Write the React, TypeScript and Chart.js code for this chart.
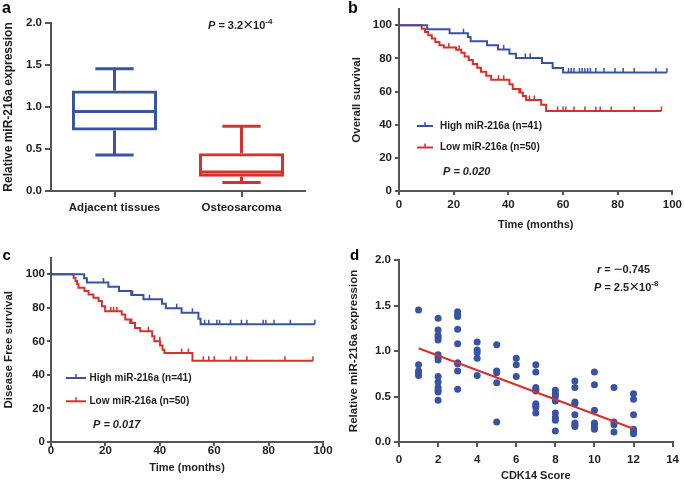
import React, { useEffect, useRef } from 'react';
import { Chart, registerables } from 'chart.js';

Chart.register(...registerables);

const BLUE = '#3953a4';
const RED = '#d8302d';
const AXIS = '#555555';
const TEXT = '#1e1e1e';
const FAMILY = "'Liberation Sans', Arial, Helvetica, sans-serif";

// ---------- Panel a: box plot ----------
const boxCategories = ['Adjacent tissues', 'Osteosarcoma'];
const boxMin = [0.43, 0.1];
const boxQ1 = [0.72, 0.17];
const boxMedian = [0.945, 0.225];
const boxQ3 = [1.195, 0.45];
const boxMax = [1.455, 0.77];
const expressionTicks = [0, 0.5, 1.0, 1.5, 2.0];

// ---------- Panel b: overall survival ----------
const osHighTime = [0, 10.3, 18.5, 25.2, 26.2, 32.2, 36.2, 40.4, 42.8, 52.3, 56.2, 60, 98];
const osHighSurv = [100, 97.6, 95.2, 92.9, 90.4, 87.9, 85.4, 82.8, 80.2, 77.2, 74.3, 71.5, 71.5];
const osHighCensor = [23.6, 38.3, 46.2, 48, 62, 63, 64, 66, 67, 68, 69, 70, 72, 75, 79, 82, 86, 94, 98];
const osLowTime = [0, 8.3, 9.5, 10.7, 12, 13.3, 14.8, 16.4, 20.9, 22.8, 24, 25.5, 27, 28.6, 30, 31.9, 33.7, 40.4, 41.6, 44, 45.3, 46.5, 52, 53.8, 96];
const osLowSurv = [100, 98, 96, 94, 92, 90, 88, 86.6, 85.2, 83.4, 81.2, 79, 76.7, 74.4, 71.9, 69.6, 67.2, 64.4, 61.5, 59.4, 57.3, 55, 52, 48.3, 48.3];
const osLowCensor = [18.2, 22, 36.4, 38.3, 44.5, 47.7, 49.5, 58, 60, 61, 64, 68, 72, 73.6, 77.6, 86, 96];

// ---------- Panel c: disease free survival ----------
const dfsHighTime = [0, 12.2, 13.2, 21.1, 25, 29.5, 34, 40.8, 42.2, 48, 54.2, 55, 97];
const dfsHighSurv = [100, 97.6, 95.1, 92.6, 90.1, 87.6, 85.1, 82.4, 79.8, 77, 73.5, 70.2, 70.2];
const dfsHighCensor = [19.3, 30, 36.2, 46.2, 52, 56.5, 58, 61, 62, 66, 70, 72, 78, 79, 82, 88, 97];
const dfsLowTime = [0, 8.3, 9, 9.6, 10.1, 12.3, 13.8, 15.6, 17.5, 18.7, 19.9, 26, 27.3, 29.1, 30.9, 32.8, 37.2, 38, 40.1, 41, 41.7, 52, 96.3];
const dfsLowSurv = [100, 98, 96, 94, 92, 90, 88, 86, 84, 81, 78, 76, 73, 71, 68, 66, 63, 60, 57.5, 55, 53, 48.5, 48.5];
const dfsLowCensor = [22, 23, 24.2, 29.7, 35.8, 40, 48, 50.5, 56, 58, 60, 66, 68, 72, 86, 96.3];

const timeTicks = [0, 20, 40, 60, 80, 100];
const survivalTicks = [0, 20, 40, 60, 80, 100];
const legendHighLabel = 'High miR-216a (n=41)';
const legendLowLabel = 'Low miR-216a (n=50)';

// ---------- Panel d: correlation ----------
const cdkScore = [
  1, 1, 1, 1, 1,
  2, 2, 2, 2, 2, 2, 2, 2, 2, 2, 2, 2, 2, 2,
  3, 3, 3, 3, 3, 3, 3, 3, 3,
  4, 4, 4, 4, 4,
  5, 5, 5, 5, 5,
  6, 6, 6,
  7, 7, 7, 7, 7, 7, 7, 7, 7,
  8, 8, 8, 8, 8, 8, 8, 8,
  9, 9, 9, 9, 9, 9, 9, 9,
  10, 10, 10, 10, 10, 10, 10,
  11, 11, 11, 11,
  12, 12, 12, 12, 12, 12,
];
const cdkExpression = [
  1.45, 0.85, 0.78, 0.76, 0.73,
  1.36, 1.23, 1.17, 1.15, 1.12, 0.96, 0.93, 0.9, 0.72, 0.66, 0.6, 0.57, 0.55, 0.46,
  1.43, 1.4, 1.38, 1.24, 1.08, 0.87, 0.86, 0.78, 0.58,
  1.1, 1.01, 0.98, 0.92, 0.73,
  1.07, 0.78, 0.76, 0.65, 0.22,
  0.92, 0.85, 0.72,
  0.85, 0.77, 0.6, 0.58, 0.56, 0.42, 0.4, 0.38, 0.32,
  0.57, 0.53, 0.5, 0.45, 0.32, 0.27, 0.24, 0.12,
  0.67, 0.6, 0.44, 0.42, 0.3, 0.21, 0.19, 0.17,
  0.77, 0.63, 0.35, 0.21, 0.19, 0.16, 0.14,
  0.6, 0.22, 0.19, 0.11,
  0.53, 0.47, 0.3, 0.14, 0.11, 0.09,
];
const fitX = [1, 12];
const fitY = [1.03, 0.145];
const cdkTicks = [0, 2, 4, 6, 8, 10, 12, 14];

// ---------- helpers ----------
const survAt = (times: number[], surv: number[], t: number) => {
  let s = surv[0];
  for (let i = 0; i < times.length; i++) if (times[i] <= t) s = surv[i];
  return s;
};

type Seg = { t: string; italic?: boolean; weight?: string; size?: number; dy?: number };
function drawRich(ctx: CanvasRenderingContext2D, x: number, y: number, segs: Seg[], base: number) {
  let cx = x;
  ctx.textBaseline = 'middle';
  ctx.textAlign = 'left';
  ctx.fillStyle = TEXT;
  for (const s of segs) {
    const size = s.size ?? base;
    ctx.font = `${s.italic ? 'italic ' : ''}${s.weight ?? 'bold'} ${size}px ${FAMILY}`;
    ctx.fillText(s.t, cx, y + (s.dy ?? 0));
    cx += ctx.measureText(s.t).width;
  }
}

function drawLetter(ctx: CanvasRenderingContext2D, letter: string, x: number, y: number, size: number) {
  ctx.font = `bold ${size}px ${FAMILY}`;
  ctx.fillStyle = '#000';
  ctx.textBaseline = 'alphabetic';
  ctx.textAlign = 'left';
  ctx.fillText(letter, x, y);
}

function drawLegendItem(ctx: CanvasRenderingContext2D, x0: number, x1: number, y: number, color: string, label: string, textX: number) {
  ctx.strokeStyle = color;
  ctx.lineWidth = 2;
  ctx.beginPath();
  ctx.moveTo(x0, y);
  ctx.lineTo(x1, y);
  ctx.stroke();
  ctx.lineWidth = 1.5;
  const mx = (x0 + x1) / 2;
  ctx.beginPath();
  ctx.moveTo(mx, y);
  ctx.lineTo(mx, y - 4);
  ctx.stroke();
  ctx.font = `bold 10px ${FAMILY}`;
  ctx.fillStyle = TEXT;
  ctx.textBaseline = 'middle';
  ctx.textAlign = 'left';
  ctx.fillText(label, textX, y);
}

type AxisOpt = {
  min: number; max: number; ticks: number[]; fmt?: (v: number) => string;
  tickLength: number; pad: number; size: number; title: string; titleSize: number;
  titlePad: number; fixed: number; horizontal: boolean;
};
function linAxis(o: AxisOpt) {
  return {
    type: 'linear',
    min: o.min,
    max: o.max,
    position: o.horizontal ? 'bottom' : 'left',
    afterBuildTicks: (s: any) => { s.ticks = o.ticks.map((v) => ({ value: v })); },
    afterFit: (s: any) => { if (o.horizontal) s.height = o.fixed; else s.width = o.fixed; },
    border: { display: true, color: AXIS, width: 2 },
    grid: { display: true, drawOnChartArea: false, drawTicks: true, tickLength: o.tickLength, color: AXIS, lineWidth: 2 },
    ticks: {
      padding: o.pad, color: TEXT, autoSkip: false, maxRotation: 0,
      font: { family: FAMILY, size: o.size, weight: 'bold', lineHeight: o.horizontal ? 1.2 : 1 },
      callback: (v: any) => (o.fmt ? o.fmt(Number(v)) : String(v)),
    },
    title: {
      display: true, text: o.title, color: TEXT,
      font: { family: FAMILY, size: o.titleSize, weight: 'bold', lineHeight: 1.2 },
      padding: { top: o.titlePad, bottom: o.titlePad },
    },
  };
}

const baseOptions = {
  responsive: false,
  animation: false,
  devicePixelRatio: 1,
  events: [],
  plugins: { legend: { display: false }, tooltip: { enabled: false }, title: { display: false } },
};

const TICK = 11.5;

// ---------- chart configs ----------
function configA(): any {
  const boxPlugin = {
    id: 'boxWhiskers',
    afterDatasetsDraw(chart: any) {
      const meta = chart.getDatasetMeta(0);
      const y = chart.scales.y;
      const ctx: CanvasRenderingContext2D = chart.ctx;
      const colors = [BLUE, RED];
      ctx.save();
      ctx.lineWidth = 3;
      const line = (x0: number, y0: number, x1: number, y1: number) => {
        ctx.beginPath(); ctx.moveTo(x0, y0); ctx.lineTo(x1, y1); ctx.stroke();
      };
      meta.data.forEach((bar: any, i: number) => {
        const w = bar.width;
        const cx = bar.x;
        ctx.strokeStyle = colors[i];
        const yMed = y.getPixelForValue(boxMedian[i]);
        line(cx - w / 2 + 1, yMed, cx + w / 2 - 1, yMed);
        const yQ3 = y.getPixelForValue(boxQ3[i]);
        const yQ1 = y.getPixelForValue(boxQ1[i]);
        const yMax = y.getPixelForValue(boxMax[i]);
        const yMin = y.getPixelForValue(boxMin[i]);
        line(cx, yQ3, cx, yMax);
        line(cx, yQ1, cx, yMin);
        const cw = w * 0.45;
        line(cx - cw / 2, yMax, cx + cw / 2, yMax);
        line(cx - cw / 2, yMin, cx + cw / 2, yMin);
      });
      ctx.restore();
    },
    afterDraw(chart: any) {
      const ctx: CanvasRenderingContext2D = chart.ctx;
      ctx.save();
      drawLetter(ctx, 'a', 2, 13, 16);
      drawRich(ctx, 208, 25.5, [
        { t: 'P', italic: true },
        { t: ' = 3.2' },
        { t: '×', weight: 'normal', size: 17 },
        { t: '10' },
        { t: '-4', size: 8, dy: -4 },
      ], 11);
      ctx.restore();
    },
  };
  return {
    type: 'bar',
    data: {
      labels: boxCategories,
      datasets: [{
        data: boxQ1.map((q, i) => [q, boxQ3[i]]),
        backgroundColor: 'rgba(255,255,255,0)',
        borderColor: [BLUE, RED],
        borderWidth: 3,
        borderSkipped: false,
        barPercentage: 0.67,
        categoryPercentage: 1,
      }],
    },
    options: {
      ...baseOptions,
      layout: { padding: { left: 0, right: 40, top: 23, bottom: 0 } },
      scales: {
        x: {
          type: 'category',
          offset: true,
          afterFit: (s: any) => { s.height = 49; },
          border: { display: true, color: AXIS, width: 2 },
          grid: { display: true, offset: false, drawOnChartArea: false, drawTicks: true, tickLength: 6, color: AXIS, lineWidth: 2 },
          ticks: { padding: 3.5, color: TEXT, maxRotation: 0, font: { family: FAMILY, size: 11.5, weight: 'bold', lineHeight: 1.2 } },
        },
        y: linAxis({
          min: 0, max: 2, ticks: expressionTicks, fmt: (v) => v.toFixed(1),
          tickLength: 6, pad: 3, size: TICK, title: 'Relative miR-216a expression', titleSize: 12,
          titlePad: 1.8, fixed: 51, horizontal: false,
        }),
      },
    },
    plugins: [boxPlugin],
  };
}

function kmDatasets(hT: number[], hS: number[], hC: number[], lT: number[], lS: number[], lC: number[]) {
  const censor = (times: number[], surv: number[], c: number[], color: string) => ({
    data: c.map((t) => ({ x: t, y: survAt(times, surv, t) })),
    showLine: false,
    pointStyle: 'dash',
    pointRotation: -90,
    pointRadius: 4.5,
    pointBorderWidth: 1.5,
    pointBorderColor: color,
    pointBackgroundColor: color,
  });
  const curve = (times: number[], surv: number[], color: string) => ({
    data: times.map((t, i) => ({ x: t, y: surv[i] })),
    stepped: true,
    borderColor: color,
    borderWidth: 2,
    pointRadius: 0,
    fill: false,
  });
  return [
    censor(hT, hS, hC, BLUE),
    curve(hT, hS, BLUE),
    censor(lT, lS, lC, RED),
    curve(lT, lS, RED),
  ];
}

function configB(): any {
  const notes = {
    id: 'notesB',
    afterDraw(chart: any) {
      const ctx: CanvasRenderingContext2D = chart.ctx;
      ctx.save();
      drawLetter(ctx, 'b', 3, 13, 16);
      drawLegendItem(ctx, 72, 88, 126, BLUE, legendHighLabel, 95);
      drawLegendItem(ctx, 72, 88, 147.5, RED, legendLowLabel, 95);
      drawRich(ctx, 98, 172, [{ t: 'P = 0.020', italic: true }], 11);
      ctx.restore();
    },
  };
  return {
    type: 'line',
    data: { datasets: kmDatasets(osHighTime, osHighSurv, osHighCensor, osLowTime, osLowSurv, osLowCensor) },
    options: {
      ...baseOptions,
      layout: { padding: { left: 0, right: 12, top: 5.5, bottom: 0 } },
      scales: {
        x: linAxis({
          min: 0, max: 100, ticks: timeTicks, tickLength: 4, pad: 3, size: TICK,
          title: 'Time (months)', titleSize: 11, titlePad: 8.4, fixed: 49, horizontal: true,
        }),
        y: linAxis({
          min: 0, max: 110, ticks: survivalTicks, tickLength: 4, pad: 3, size: TICK,
          title: 'Overall survival', titleSize: 11.5, titlePad: 4.8, fixed: 54, horizontal: false,
        }),
      },
    },
    plugins: [notes],
  };
}

function configC(): any {
  const notes = {
    id: 'notesC',
    afterDraw(chart: any) {
      const ctx: CanvasRenderingContext2D = chart.ctx;
      ctx.save();
      drawLetter(ctx, 'c', 2.5, 20, 15);
      drawLegendItem(ctx, 66, 86, 138, BLUE, legendHighLabel, 89.5);
      drawLegendItem(ctx, 66, 86, 161.3, RED, legendLowLabel, 89.5);
      drawRich(ctx, 93, 185, [{ t: 'P = 0.017', italic: true }], 11);
      ctx.restore();
    },
  };
  return {
    type: 'line',
    data: { datasets: kmDatasets(dfsHighTime, dfsHighSurv, dfsHighCensor, dfsLowTime, dfsLowSurv, dfsLowCensor) },
    options: {
      ...baseOptions,
      layout: { padding: { left: 0, right: 22, top: 17.5, bottom: 0 } },
      scales: {
        x: linAxis({
          min: 0, max: 100, ticks: timeTicks, tickLength: 4, pad: -2, size: TICK,
          title: 'Time (months)', titleSize: 11, titlePad: 8.1, fixed: 41, horizontal: true,
        }),
        y: linAxis({
          min: 0, max: 110, ticks: survivalTicks, tickLength: 4, pad: 2, size: TICK,
          title: 'Disease Free survival', titleSize: 11.5, titlePad: 2.1, fixed: 51, horizontal: false,
        }),
      },
    },
    plugins: [notes],
  };
}

function configD(): any {
  const notes = {
    id: 'notesD',
    afterDraw(chart: any) {
      const ctx: CanvasRenderingContext2D = chart.ctx;
      ctx.save();
      drawLetter(ctx, 'd', 5, 20, 15);
      drawRich(ctx, 252, 30, [
        { t: 'r', italic: true },
        { t: ' = ' },
        { t: '−', weight: 'normal', size: 15 },
        { t: '0.745' },
      ], 11);
      drawRich(ctx, 249, 47.5, [
        { t: 'P', italic: true },
        { t: ' = 2.5' },
        { t: '×', weight: 'normal', size: 17 },
        { t: '10' },
        { t: '-8', size: 8, dy: -4 },
      ], 11);
      ctx.restore();
    },
  };
  return {
    type: 'scatter',
    data: {
      datasets: [
        {
          data: fitX.map((x, i) => ({ x, y: fitY[i] })),
          showLine: true,
          borderColor: RED,
          borderWidth: 2,
          pointRadius: 0,
          fill: false,
        },
        {
          data: cdkScore.map((x, i) => ({ x, y: cdkExpression[i] })),
          pointRadius: 3.5,
          pointBackgroundColor: BLUE,
          pointBorderWidth: 0,
          backgroundColor: BLUE,
        },
      ],
    },
    options: {
      ...baseOptions,
      layout: { padding: { left: 0, right: 8, top: 20, bottom: 0 } },
      scales: {
        x: linAxis({
          min: 0, max: 14, ticks: cdkTicks, tickLength: 5, pad: 6, size: TICK,
          title: 'CDK14 Score', titleSize: 11, titlePad: 0.4, fixed: 41, horizontal: true,
        }),
        y: linAxis({
          min: 0, max: 2, ticks: expressionTicks, fmt: (v) => v.toFixed(1), tickLength: 5, pad: 3, size: TICK,
          title: 'Relative miR-216a expression', titleSize: 11.5, titlePad: 2, fixed: 54, horizontal: false,
        }),
      },
    },
    plugins: [notes],
  };
}

function Panel({ left, top, width, height, make }: { left: number; top: number; width: number; height: number; make: () => any }) {
  const ref = useRef<HTMLCanvasElement>(null);
  useEffect(() => {
    const chart = new Chart(ref.current as HTMLCanvasElement, make());
    return () => chart.destroy();
  }, []);
  return (
    <canvas
      ref={ref}
      width={width}
      height={height}
      style={{ position: 'absolute', left, top, width, height }}
    />
  );
}

export default function App() {
  return (
    <div style={{ position: 'absolute', left: 0, top: 0, width: 685, height: 483, background: '#ffffff', overflow: 'hidden' }}>
      <Panel left={0} top={0} width={345} height={240} make={configA} />
      <Panel left={345} top={0} width={340} height={240} make={configB} />
      <Panel left={0} top={240} width={345} height={243} make={configC} />
      <Panel left={345} top={240} width={340} height={243} make={configD} />
    </div>
  );
}
